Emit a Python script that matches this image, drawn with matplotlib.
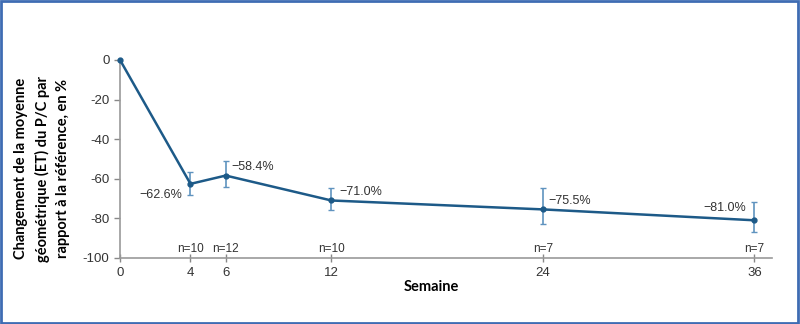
import matplotlib.pyplot as plt
from matplotlib.patches import Rectangle

semaines = [0, 4, 6, 12, 24, 36]
variation = [0, -62.6, -58.4, -71.0, -75.5, -81.0]
err_haut = [0, 6.2, 7.1, 6.5, 10.7, 9.4]
err_bas = [0, 5.6, 5.8, 5.0, 7.3, 6.0]
effectifs = ['', 'n=10', 'n=12', 'n=10', 'n=7', 'n=7']
etiquettes = ['', '\u221262.6%', '\u221258.4%', '\u221271.0%', '\u221275.5%', '\u221281.0%']
# décalages des étiquettes (points) et alignement
decalages = [(0, 0), (-6, -8), (4, 6), (6, 6), (4, 6), (-6, 9)]
alignements = ['left', 'right', 'left', 'left', 'left', 'right']

plt.rcParams['font.family'] = ['Liberation Sans', 'DejaVu Sans']

fig = plt.figure(figsize=(8, 3.24), dpi=100)
ax = fig.add_axes([0.15, 0.204, 0.815, 0.611])

ligne = '#1d5a88'
barres = '#5f93bf'

ax.errorbar(semaines[1:], variation[1:], yerr=[err_bas[1:], err_haut[1:]],
            fmt='none', ecolor=barres, elinewidth=1.2, capsize=2, capthick=1, zorder=2)
ax.plot(semaines, variation, color=ligne, lw=1.8, marker='o', ms=3.5,
        clip_on=False, zorder=3)

for x, y, lab, d, ha in zip(semaines, variation, etiquettes, decalages, alignements):
    if lab:
        ax.annotate(lab, (x, y), xytext=d, textcoords='offset points',
                    ha=ha, va='center', fontsize=9, color='#333333')

for x, n in zip(semaines, effectifs):
    if n:
        ax.text(x, -98.5, n, ha='center', va='bottom', fontsize=8.5, color='#333333')

ax.set_xlim(0, 37)
ax.set_ylim(-100, 0)
ax.set_xticks(semaines)
ax.set_yticks([0, -20, -40, -60, -80, -100])
ax.set_yticklabels(['0', '-20', '-40', '-60', '-80', '-100'])
ax.tick_params(axis='both', colors='#888888', labelcolor='#333333', labelsize=9.5,
               length=4, width=1)
ax.tick_params(axis='x', direction='inout', length=6)
for s in ['top', 'right']:
    ax.spines[s].set_visible(False)
for s in ['left', 'bottom']:
    ax.spines[s].set_color('#999999')
    ax.spines[s].set_linewidth(1.2)

ax.set_xlabel('Semaine', fontsize=10.5, fontweight='bold',
              family=['Lato', 'DejaVu Sans'])
ax.xaxis.set_label_coords(0.478, -0.11)
ax.set_ylabel('Changement de la moyenne\ngéométrique (ET) du P/C par\nrapport à la référence, en %',
              fontsize=10.5, fontweight='bold', linespacing=1.55,
              family=['Lato', 'DejaVu Sans'])
ax.yaxis.set_label_coords(-0.077, 0.45)

# cadre bleu autour de la figure
fig.patches.append(Rectangle((0.001, 0.002), 0.997, 0.995, transform=fig.transFigure,
                             fill=False, edgecolor='#3f6cb3', lw=2))

fig.savefig('out.png', dpi=100)
